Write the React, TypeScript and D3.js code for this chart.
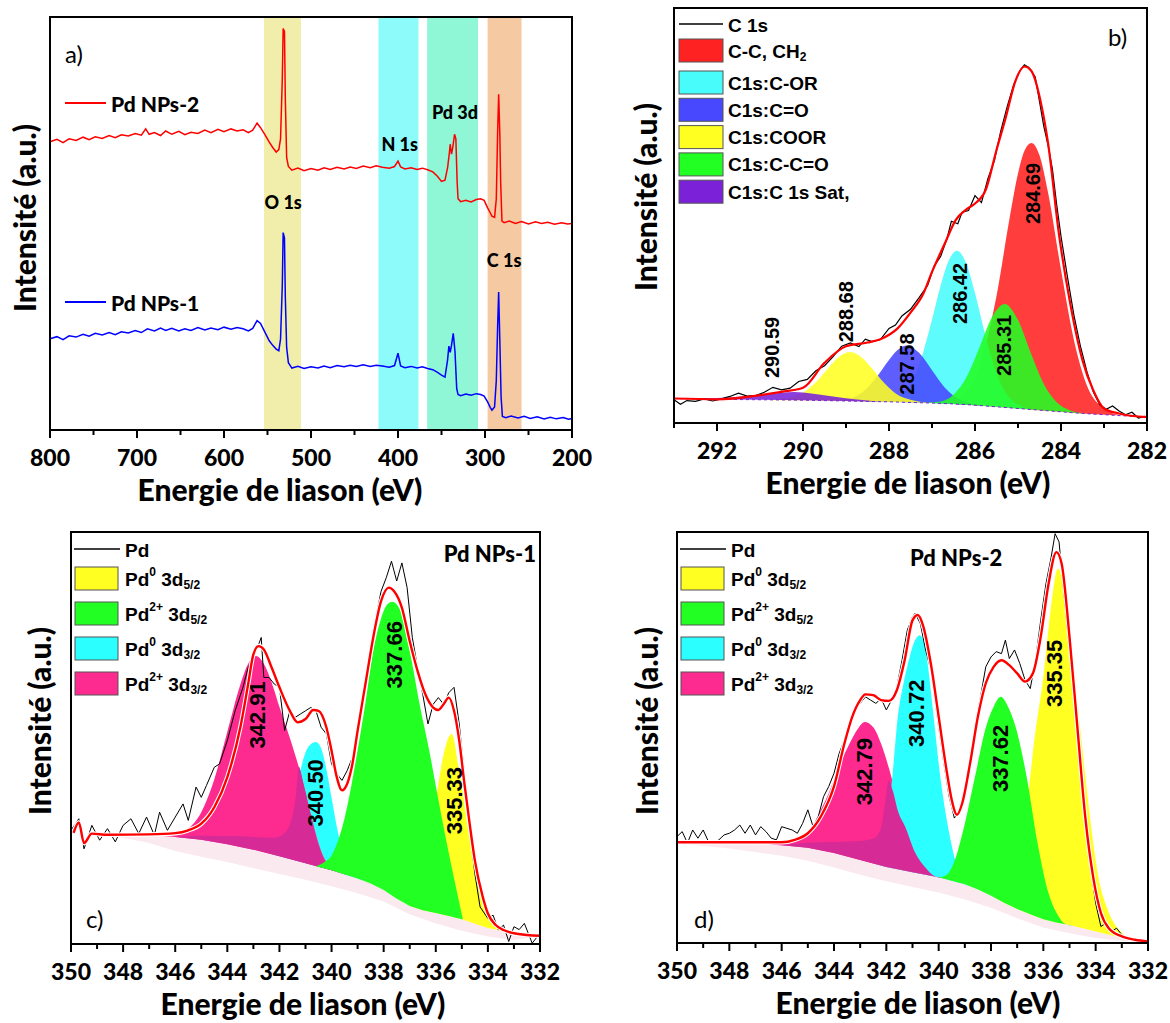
import React from "react";
import * as d3 from "d3";

type P = [number, number];

// ---------------- Panel a : survey spectra (eV, % of plot height) ----------------
const A_NPS2: P[] = [[800,69.8],[792,70.4],[785,69.6],[778,70.5],[770,70.1],[762,70.9],[755,70.3],[748,71.0],[740,70.6],[732,71.3],[725,70.8],[718,71.5],[710,71.2],[702,71.8],[695,71.4],[690,72.9],[686,71.6],[680,72.0],[673,71.3],[667,72.4],[660,71.6],[652,72.3],[645,71.5],[638,72.1],[630,71.8],[622,72.6],[615,72.0],[607,72.8],[600,72.2],[592,72.9],[585,72.4],[578,72.7],[572,72.0],[567,72.6],[562,74.3],[558,73.2],[553,71.5],[548,69.7],[544,68.4],[540,67.3],[537,67.9],[535,70.5],[533,85],[532,97.2],[530.5,96.5],[529.5,80],[528,66.0],[526,63.8],[522,62.9],[515,63.4],[508,62.8],[500,63.3],[492,62.9],[485,63.5],[478,63.1],[470,63.6],[462,63.2],[455,63.7],[448,63.3],[440,63.9],[432,63.5],[425,64.0],[418,63.6],[410,63.4],[404,63.8],[400,65.1],[397,63.7],[392,63.2],[385,63.5],[378,63.1],[372,63.4],[366,63.0],[360,62.5],[355,61.5],[350,60.2],[346,60.5],[343,63.5],[341,67.0],[340,69.2],[338.5,66.8],[337,68.5],[335,71.6],[333.5,70.5],[332,60],[331,56.0],[328,55.3],[322,55.6],[316,55.2],[310,55.8],[305,56.0],[301,55.6],[297,53.8],[294,52.6],[292,51.8],[289,51.5],[287,56],[285.5,72],[284.3,81.3],[283,72],[282,60],[280.5,50.6],[278,50.2],[272,50.6],[265,50.0],[258,50.5],[250,49.9],[242,50.4],[235,50.0],[228,50.3],[220,49.8],[212,50.2],[205,49.9],[200,50.0]];
const A_NPS1: P[] = [[800,22.1],[792,22.6],[785,21.9],[778,22.8],[770,22.5],[762,23.2],[755,22.7],[748,23.4],[740,23.0],[732,23.6],[725,23.1],[718,23.8],[710,23.5],[702,24.1],[695,23.6],[688,24.5],[680,24.0],[673,24.7],[667,24.1],[660,24.6],[652,24.0],[645,24.5],[638,24.1],[630,24.8],[622,24.2],[615,24.7],[607,24.3],[600,24.9],[592,24.4],[585,24.8],[578,24.5],[572,24.0],[567,24.6],[562,26.5],[558,25.8],[553,23.7],[548,21.6],[544,20.5],[540,19.6],[537,19.2],[535,22],[533,35],[532,47.8],[530.5,46.5],[529.5,32],[528,20],[526,16.3],[522,15.0],[515,15.4],[508,14.9],[500,15.3],[492,15.0],[485,15.5],[478,15.1],[470,15.6],[462,15.3],[455,15.7],[448,15.4],[440,15.8],[432,15.4],[425,15.7],[418,15.5],[410,15.2],[404,15.6],[400,18.6],[397,15.5],[392,15.1],[385,15.4],[378,15.0],[372,15.3],[366,14.9],[360,14.6],[355,14.0],[350,13.3],[346,12.8],[343,17],[341.5,20.3],[340,18.8],[338.5,20.5],[336.5,23.4],[334.5,19],[332.5,10],[331,8.6],[328,8.3],[322,8.7],[316,8.4],[310,8.8],[305,8.6],[301,8.2],[297,6.8],[294,5.5],[292,4.8],[289,5.6],[287,12],[285.5,25],[284.3,33.4],[283,22],[281.5,8],[280,3.3],[276,3.0],[270,3.4],[262,2.9],[255,3.3],[248,2.8],[240,3.2],[232,2.7],[225,3.1],[218,2.7],[210,3.0],[204,2.6],[200,2.8]];
const A_BAND_RANGES: P[] = [[554,511.5],[422.5,376.5],[366.5,308],[297,258]];
const A_PEAK_NAMES = ["O 1s", "N 1s", "Pd 3d", "C 1s"];
const A_PEAK_POS: P[] = [[532,55.3],[398,69.2],[334.5,76.9],[278,41.2]];
const A_SERIES = ["Pd NPs-2", "Pd NPs-1"];
const A_TICKS = [800,700,600,500,400,300,200];
const A_MINOR = [750,650,550,450,350,250];

// ---------------- Panel b : C 1s ----------------
const B_RAW: P[] = [[293.0,5.6],[292.85,4.5],[292.7,5.4],[292.5,5.2],[292.3,5.8],[292.1,5.3],[291.9,5.8],[291.7,6.4],[291.5,7.2],[291.3,6.5],[291.1,6.6],[290.9,7.4],[290.7,8.6],[290.5,8.0],[290.3,8.4],[290.1,10.0],[289.9,10.5],[289.7,12.6],[289.5,13.8],[289.3,16.0],[289.1,18.5],[288.9,19.3],[288.7,18.4],[288.55,20.2],[288.4,19.6],[288.2,20.1],[288.0,22.8],[287.85,23.6],[287.7,25.8],[287.5,27.4],[287.3,30.2],[287.1,33.2],[286.95,37.8],[286.8,40.1],[286.65,44.5],[286.55,48.6],[286.4,48.0],[286.3,50.8],[286.15,51.2],[286.0,54.8],[285.85,53.1],[285.7,58.9],[285.55,63.2],[285.4,70.4],[285.25,76.3],[285.1,81.5],[284.95,85.0],[284.85,86.3],[284.75,85.7],[284.6,83.4],[284.5,77.5],[284.4,71.5],[284.3,66.9],[284.2,61.2],[284.1,52.6],[284.0,45.0],[283.85,35.2],[283.7,26.0],[283.55,18.6],[283.4,12.5],[283.25,7.5],[283.1,4.4],[282.95,3.3],[282.8,4.1],[282.65,2.9],[282.5,2.0],[282.35,2.6],[282.2,1.2],[282.05,1.6],[282.0,1.3]];
const B_ENV: P[] = [[293.0,5.9],[292.0,5.7],[291.0,6.7],[290.5,7.5],[290.0,8.5],[289.5,14.5],[289.0,18.5],[288.5,19.4],[288.2,20.2],[287.8,22.8],[287.5,26.6],[287.2,31.2],[287.0,36.4],[286.7,43.3],[286.45,48.9],[286.2,51.5],[286.0,52.9],[285.75,56.2],[285.5,65.8],[285.3,73.0],[285.05,82.7],[284.85,85.9],[284.7,85.0],[284.45,76.3],[284.3,67.4],[284.05,45.7],[283.8,29.6],[283.5,15.1],[283.25,7.9],[283.0,3.5],[282.65,2.3],[282.0,1.4]];
const B_BASE: P[] = [[293,5.9],[292,5.7],[291,5.6],[290,5.5],[289,5.3],[288,5.1],[287,4.8],[286.5,4.6],[286,4.3],[285.5,3.9],[285,3.5],[284.5,3.1],[284,2.7],[283.5,2.3],[283,2.0],[282.5,1.7],[282,1.4]];
const B_CC: P[] = [[286.6,4.6],[286.0,11.0],[285.5,30.6],[285.2,49.1],[285.0,60.1],[284.85,65.6],[284.69,67.5],[284.5,64.5],[284.3,55.5],[284.0,36.9],[283.7,20.0],[283.4,9.1],[283.0,3.5],[282.6,1.8]];
const B_COR: P[] = [[288.2,5.1],[287.6,7.9],[287.3,14.0],[287.0,24.9],[286.8,33.1],[286.6,39.4],[286.42,41.5],[286.2,38.3],[286.0,31.3],[285.8,22.8],[285.5,12.0],[285.2,6.1],[284.7,3.3]];
const B_CO: P[] = [[289.4,5.4],[289.0,5.7],[288.6,7.6],[288.3,10.9],[288.0,15.2],[287.8,17.6],[287.58,18.7],[287.3,16.9],[287.0,12.7],[286.7,8.5],[286.4,5.9],[286.0,4.5],[285.6,4.0]];
const B_COOR: P[] = [[290.8,5.5],[290.3,6.1],[290.0,7.3],[289.7,9.8],[289.4,13.4],[289.15,16.0],[288.9,17.1],[288.65,15.9],[288.4,13.2],[288.1,9.5],[287.8,6.8],[287.5,5.6],[287.0,4.8]];
const B_CCO: P[] = [[287.2,4.9],[286.8,5.2],[286.5,6.8],[286.2,11.0],[285.9,18.1],[285.6,25.6],[285.31,28.7],[285.0,24.8],[284.7,16.8],[284.4,9.4],[284.1,5.0],[283.8,3.1],[283.4,2.3]];
const B_SAT: P[] = [[292.8,5.9],[292.0,6.0],[291.5,6.3],[291.0,6.8],[290.5,7.3],[290.2,7.5],[289.8,7.1],[289.3,6.4],[288.8,5.7],[288.2,5.1]];
const B_NAMES = ["C-C, CH", "C1s:C-OR", "C1s:C=O", "C1s:COOR", "C1s:C-C=O", "C1s:C 1s Sat,"];
const B_PEAK_LABELS = ["284.69", "285.31", "286.42", "287.58", "288.68", "290.59"];
const B_PEAK_POS: P[] = [[284.64,55.3],[285.33,18.7],[286.36,31.2],[287.57,14.2],[288.99,26.8],[290.71,18.2]];
const B_TICKS = [292,290,288,286,284,282];
const B_MINOR = [293,291,289,287,285,283];

// ---------------- Panel c : Pd 3d, Pd NPs-1 ----------------
const C_RAW: P[] = [[350,27.6],[349.7,30.4],[349.5,23.1],[349.2,28.8],[348.9,25.2],[348.6,28.0],[348.3,24.8],[348.0,28.8],[347.7,30.4],[347.4,26.8],[347.1,30.8],[346.8,26.4],[346.6,32.0],[346.3,27.6],[346.0,30.8],[345.7,34.0],[345.5,30.0],[345.2,38.1],[345.0,35.6],[344.8,38.5],[344.5,42.9],[344.3,43.7],[344.0,49.4],[343.7,56.6],[343.4,62.3],[343.2,67.1],[343.0,69.5],[342.8,72.7],[342.7,74.4],[342.6,64.7],[342.4,64.7],[342.2,63.1],[342.0,62.3],[341.8,51.8],[341.6,56.6],[341.4,55.0],[341.2,55.8],[341.0,56.6],[340.8,57.4],[340.6,56.6],[340.4,52.6],[340.2,51.0],[340.0,43.7],[339.8,41.3],[339.6,39.7],[339.4,42.1],[339.2,45.3],[339.0,52.6],[338.7,64.7],[338.4,76.0],[338.1,85.6],[337.9,88.9],[337.7,92.9],[337.5,88.1],[337.3,92.5],[337.1,86.5],[336.9,74.4],[336.7,67.1],[336.5,60.6],[336.3,53.4],[336.1,58.2],[335.9,59.8],[335.7,58.2],[335.5,61.0],[335.3,62.3],[335.1,53.4],[334.9,41.3],[334.7,27.6],[334.5,17.1],[334.3,9.0],[334.0,6.2],[333.8,7.0],[333.6,3.4],[333.4,4.6],[333.2,0.6],[333.0,4.2],[332.8,3.5],[332.6,5.0],[332.4,1.8],[332.3,0.2],[332.0,2.6]];
const C_ENV: P[] = [[349.9,27.0],[349.7,29.5],[349.5,24.5],[349.2,26.8],[348.6,26.5],[347,26.6],[346,26.9],[345.5,27.6],[345,29.2],[344.5,33.2],[344,40.5],[343.5,52.6],[343.2,63.1],[343,70.3],[342.8,72.3],[342.6,71.5],[342.3,67.1],[342,62.3],[341.6,56.6],[341.3,53.8],[341.0,54.6],[340.7,56.8],[340.5,56.6],[340.2,52.6],[340.0,46.9],[339.8,40.5],[339.6,37.3],[339.4,38.9],[339.2,43.7],[339.0,51.8],[338.7,63.1],[338.4,74.4],[338.1,83.2],[337.8,86.5],[337.6,85.6],[337.3,81.6],[337.0,73.5],[336.7,66.3],[336.4,60.6],[336.1,57.4],[335.9,56.8],[335.7,58.2],[335.5,59.8],[335.3,56.6],[335.1,49.4],[334.9,38.9],[334.7,29.2],[334.5,20.3],[334.2,11.5],[334.0,7.4],[333.7,4.6],[333.4,3.4],[333.0,2.6],[332.5,2.2],[332.0,2.0]];
const C_SHIRLEY: P[] = [[348.6,26.5],[347,26.4],[346,26.0],[345,25.3],[344,24.2],[343,22.9],[342,21.3],[341,19.6],[340,17.9],[339,15.9],[338.5,14.7],[338,13.1],[337.5,11.0],[337,9.2],[336.5,8.2],[336,7.5],[335.5,6.8],[335,6.0],[334.5,4.9],[334,3.9],[333,2.6],[332,2.0]];
const C_BGLOW: P[] = [[348.6,26.5],[347,24.5],[346,22.6],[345,21.2],[344,19.9],[343,18.4],[342,17.0],[341,15.6],[340,14.0],[339,12.3],[338,10.3],[337,7.2],[336,5.0],[335,3.2],[334,1.8],[333,1.0],[332,0.8]];
const C_PD2_32: P[] = [[346.5,26.2],[346.0,26.6],[345.5,28.0],[345.0,32.0],[344.5,40.0],[344.0,51.5],[343.5,63.0],[343.2,68.0],[342.9,69.9],[342.6,68.0],[342.3,63.5],[342.0,57.5],[341.6,50.0],[341.26,43.0],[341.0,37.0],[340.83,32.4],[340.33,21.5],[340.0,18.6],[339.5,17.0],[339.2,16.3]];
const C_PD0_32: P[] = [[342.2,21.6],[341.8,24.0],[341.5,30.0],[341.26,40.0],[341.0,46.5],[340.8,48.5],[340.6,49.0],[340.4,47.5],[340.2,42.5],[340.0,35.5],[339.8,28.5],[339.6,23.0],[339.4,19.5],[339.1,17.0],[338.8,15.4]];
const C_SHADE: P[] = [[346.0,26.0],[345.0,26.3],[344.0,26.2],[343.0,26.0],[342.2,25.8],[341.8,27.0],[341.5,31.0],[341.35,37.0],[341.26,43.0],[341.05,38.0],[340.83,32.0],[340.6,26.0],[340.33,21.0],[340.0,18.2],[339.7,17.3]];
const C_PD2_52: P[] = [[340.6,18.9],[340.3,19.8],[340.0,21.5],[339.5,30.5],[339.0,47.0],[338.7,58.5],[338.4,71.1],[338.1,79.0],[337.85,82.5],[337.66,83.1],[337.4,81.5],[337.0,71.1],[336.6,57.5],[336.25,46.9],[335.9,35.0],[335.5,22.0],[335.2,13.0],[334.96,6.0]];
const C_PD0_52: P[] = [[337.2,10.0],[336.6,14.0],[336.25,24.4],[335.96,36.5],[335.67,46.9],[335.39,51.0],[335.1,42.1],[334.67,24.4],[334.24,12.3],[333.81,5.8],[333.4,3.2],[333.0,2.6]];
const C_PEAK_LABELS = ["342.91", "340.50", "337.66", "335.33"];
const C_PEAK_POS: P[] = [[342.84,55.6],[340.6,36.7],[337.6,70.2],[335.3,34.8]];

// ---------------- Panel d : Pd 3d, Pd NPs-2 ----------------
const D_RAW: P[] = [[350,25.9],[349.8,27.1],[349.6,24.3],[349.4,27.5],[349.2,25.5],[349.0,27.5],[348.8,24.7],[348.6,24.3],[348.4,25.1],[348.2,26.3],[348.0,26.7],[347.8,27.5],[347.6,28.7],[347.4,26.7],[347.2,28.7],[347.0,26.3],[346.8,28.3],[346.6,27.1],[346.4,25.5],[346.2,25.1],[346.0,28.3],[345.8,27.9],[345.6,27.5],[345.4,26.7],[345.2,29.1],[345.0,32.4],[344.8,28.3],[344.6,30.8],[344.4,35.6],[344.2,38.1],[344.0,41.3],[343.8,46.2],[343.6,49.4],[343.4,52.6],[343.2,56.7],[343.0,58.3],[342.8,59.9],[342.6,59.1],[342.4,58.3],[342.2,59.5],[342.0,56.7],[341.8,59.1],[341.6,62.3],[341.4,68.8],[341.2,76.1],[341.0,79.4],[340.9,80.2],[340.7,77.7],[340.5,71.3],[340.3,66.4],[340.0,52.6],[339.8,43.7],[339.6,35.6],[339.4,30.4],[339.2,32.4],[339.0,38.1],[338.8,43.7],[338.6,53.4],[338.4,59.9],[338.2,67.2],[338.0,69.6],[337.8,70.9],[337.6,70.4],[337.45,73.7],[337.3,69.2],[337.1,71.3],[336.9,68.0],[336.7,64.0],[336.5,61.9],[336.3,68.8],[336.1,78.5],[335.9,87.4],[335.7,93.9],[335.55,99.6],[335.4,97.6],[335.2,84.2],[335.0,71.3],[334.8,58.3],[334.6,43.7],[334.4,32.4],[334.2,18.6],[334.0,9.7],[333.8,4.0],[333.6,4.9],[333.4,2.8],[333.2,3.6],[333.0,2.0],[332.8,1.2],[332.5,0.8],[332.0,0.4]];
const D_ENV: P[] = [[350,24.5],[348,24.5],[346,24.5],[345.5,25.1],[345,26.7],[344.5,30.8],[344,38.1],[343.6,48.6],[343.3,55.1],[343.0,59.1],[342.8,60.5],[342.5,60.3],[342.2,59.1],[341.9,58.9],[341.6,61.5],[341.3,68.8],[341.0,78.5],[340.8,79.8],[340.6,77.3],[340.3,68.0],[340.0,55.1],[339.7,42.1],[339.5,34.8],[339.3,31.2],[339.1,34.0],[338.8,43.7],[338.5,55.1],[338.2,63.2],[337.9,67.2],[337.6,68.8],[337.3,67.6],[337.0,65.6],[336.7,63.6],[336.4,65.6],[336.1,74.5],[335.8,87.4],[335.5,95.1],[335.3,92.3],[335.0,74.5],[334.7,52.6],[334.4,30.8],[334.1,16.2],[333.8,7.3],[333.5,3.6],[333.0,1.6],[332.5,0.8],[332.0,0.4]];
const D_SHIRLEY: P[] = [[350,24.3],[348,24.2],[347,24.1],[346,23.8],[345,23.2],[344,21.9],[343,20.2],[342,18.5],[341,17.2],[340,16.0],[339,14.3],[338.5,13.0],[338,11.5],[337.5,9.8],[337,8.3],[336.5,7.0],[336,5.8],[335.5,5.0],[335,4.4],[334,2.8],[333,1.3],[332,0.4]];
const D_BGLOW: P[] = [[350,24.3],[348,23.0],[346,21.2],[345,20.0],[344,18.4],[343,16.6],[342,15.0],[341,13.6],[340,12.3],[339,10.6],[338,8.6],[337,6.0],[336,3.8],[335,2.4],[334,1.2],[333,0.5],[332,0.1]];
const D_PD2_32: P[] = [[346.5,24.0],[345.8,24.5],[345.2,26.0],[344.8,28.5],[344.5,32.4],[344.2,36.5],[343.95,40.5],[343.7,44.5],[343.4,48.6],[343.1,52.0],[342.83,53.8],[342.5,52.5],[342.2,48.5],[341.9,42.5],[341.6,35.5],[341.3,28.5],[341.0,23.0],[340.6,19.5],[340.2,17.0],[339.8,15.7]];
const D_PD0_32: P[] = [[342.4,19.2],[342.1,24.0],[341.9,33.0],[341.77,40.5],[341.56,55.1],[341.35,63.0],[341.14,68.8],[340.95,73.0],[340.72,74.9],[340.55,73.0],[340.44,68.8],[340.2,55.5],[339.94,40.5],[339.72,31.0],[339.52,24.3],[339.3,18.5],[339.0,15.0],[338.7,13.6]];
const D_SHADE: P[] = [[346.2,23.7],[345.0,24.4],[344.0,24.6],[343.0,24.8],[342.5,25.4],[342.2,28.0],[342.05,34.0],[341.92,39.5],[341.75,37.0],[341.55,32.0],[341.28,28.3],[340.9,22.0],[340.5,18.3],[340.2,16.4],[339.9,15.8]];
const D_PD2_52: P[] = [[340.0,16.0],[339.73,16.4],[339.38,20.2],[339.03,28.3],[338.61,40.5],[338.19,52.6],[337.9,57.5],[337.62,59.9],[337.35,57.5],[337.06,52.6],[336.64,40.5],[336.22,24.3],[335.8,12.1],[335.45,6.8],[335.16,4.6],[334.8,4.1]];
const D_PD0_52: P[] = [[337.8,10.8],[337.3,12.5],[336.8,24.0],[336.57,36.4],[336.36,48.6],[336.0,64.8],[335.72,81.0],[335.44,91.1],[335.09,81.0],[334.81,64.8],[334.53,48.6],[334.25,32.4],[333.9,16.2],[333.54,8.1],[332.98,2.4],[332.5,0.9]];
const D_PEAK_LABELS = ["342.79", "340.72", "337.62", "335.35"];
const D_PEAK_POS: P[] = [[342.83,41.7],[340.86,55.9],[337.62,44.9],[335.58,65.6]];

const CD_TICKS = [350,348,346,344,342,340,338,336,334,332];
const CD_MINOR = [349,347,345,343,341,339,337,335,333];
const PD_STATES = [["0","5/2"],["2+","5/2"],["0","3/2"],["2+","3/2"]];

const X_TITLE = "Energie de liason (eV)";
const Y_TITLE = "Intensité (a.u.)";

// ---------------- styles ----------------
const FL = "Lato, 'Open Sans', 'DejaVu Sans', sans-serif";
const FA = "'Liberation Sans', Arial, sans-serif";
const A_BAND_COLORS = ["#f1eeab", "#8efbfb", "#8ff6d6", "#f5caa2"];
const B_COLORS = ["#ff2222", "#48fcfc", "#4848ff", "#ffff22", "#22ff22", "#7b22d8"];
const PD_COLORS = ["#ffff22", "#22ff22", "#2cffff", "#fd2a8f"];

interface Geo { x0: number; x1: number; y0: number; y1: number; dom: [number, number]; }
const GA: Geo = { x0: 50, x1: 572, y0: 17, y1: 430, dom: [800, 200] };
const GB: Geo = { x0: 674, x1: 1147, y0: 8, y1: 423, dom: [293, 282] };
const GC: Geo = { x0: 71, x1: 540, y0: 532, y1: 944, dom: [350, 332] };
const GD: Geo = { x0: 677, x1: 1148, y0: 532, y1: 943, dom: [350, 332] };

function sc(g: Geo) {
  const x = d3.scaleLinear().domain(g.dom).range([g.x0, g.x1]);
  const y = d3.scaleLinear().domain([0, 100]).range([g.y1, g.y0]);
  return { x, y };
}
type S = ReturnType<typeof sc>;

function smooth(s: S, pts: P[]) {
  return d3.line<P>().x(d => s.x(d[0])).y(d => s.y(d[1])).curve(d3.curveMonotoneX)(pts) ?? "";
}
function straight(s: S, pts: P[]) {
  return d3.line<P>().x(d => s.x(d[0])).y(d => s.y(d[1]))(pts) ?? "";
}
function band(s: S, top: P[], bottom: P[]) {
  const hi = top[0][0], lo = top[top.length - 1][0];
  const inner = bottom.filter(p => p[0] < hi && p[0] > lo).slice().reverse();
  return smooth(s, top) + inner.map(p => `L${s.x(p[0])},${s.y(p[1])}`).join("") + "Z";
}

function Axes({ g, majors, minors, ytx, yty, xtx }: { g: Geo; majors: number[]; minors: number[]; ytx: number; yty: number; xtx: number }) {
  const { x } = sc(g);
  return (
    <g>
      {minors.map(v => <line key={"n" + v} x1={x(v)} x2={x(v)} y1={g.y1} y2={g.y1 + 5} stroke="#000" strokeWidth={2} />)}
      {majors.map(v => <line key={"j" + v} x1={x(v)} x2={x(v)} y1={g.y1} y2={g.y1 + 8} stroke="#000" strokeWidth={2} />)}
      {majors.map(v => (
        <text key={"t" + v} x={x(v)} y={g.y1 + 27} textAnchor="middle" dominantBaseline="central"
          fontFamily={FL} fontWeight={900} fontSize={23}>{v}</text>
      ))}
      <rect x={g.x0} y={g.y0} width={g.x1 - g.x0} height={g.y1 - g.y0} fill="none" stroke="#000" strokeWidth={2} />
      <text x={xtx} y={g.y1 + 59} textAnchor="middle" dominantBaseline="central"
        fontFamily={FL} fontWeight={900} fontSize={30}>{X_TITLE}</text>
      <text transform={`translate(${ytx},${yty}) rotate(-90)`} textAnchor="middle" dominantBaseline="central"
        fontFamily={FL} fontWeight={900} fontSize={30}>{Y_TITLE}</text>
    </g>
  );
}

function PeakLabels({ s, pos, labels, size }: { s: S; pos: P[]; labels: string[]; size: number }) {
  return (
    <g>
      {pos.map((p, i) => (
        <text key={i} transform={`translate(${s.x(p[0])},${s.y(p[1])}) rotate(-90)`} textAnchor="middle"
          dominantBaseline="central" fontFamily={FA} fontWeight={700} fontSize={size}>{labels[i]}</text>
      ))}
    </g>
  );
}

function PanelA() {
  const s = sc(GA);
  const g = GA;
  return (
    <g>
      {A_BAND_RANGES.map((r, i) => (
        <rect key={i} x={s.x(r[0])} y={g.y0} width={s.x(r[1]) - s.x(r[0])} height={g.y1 - g.y0} fill={A_BAND_COLORS[i]} />
      ))}
      <path d={straight(s, A_NPS2)} fill="none" stroke="#ff0000" strokeWidth={1.5} />
      <path d={straight(s, A_NPS1)} fill="none" stroke="#0000ff" strokeWidth={1.5} />
      {A_PEAK_NAMES.map((n, i) => (
        <text key={n} x={s.x(A_PEAK_POS[i][0])} y={s.y(A_PEAK_POS[i][1])} textAnchor="middle" dominantBaseline="central"
          fontFamily={FL} fontWeight={900} fontSize={18}>{n}</text>
      ))}
      {A_SERIES.map((n, i) => {
        const yy = i === 0 ? 103 : 302;
        return (
          <g key={n}>
            <line x1={65} x2={106} y1={yy} y2={yy} stroke={i === 0 ? "#ff0000" : "#0000ff"} strokeWidth={2} />
            <text x={111} y={yy} dominantBaseline="central" fontFamily={FL} fontWeight={900} fontSize={21}>{n}</text>
          </g>
        );
      })}
      <text x={65} y={53} dominantBaseline="central" fontFamily={FL} fontSize={24}>a)</text>
      <Axes g={GA} majors={A_TICKS} minors={A_MINOR} ytx={24} yty={218} xtx={280} />
    </g>
  );
}

function PanelB() {
  const s = sc(GB);
  const comps = [B_CC, B_COR, B_CO, B_COOR, B_CCO, B_SAT];
  const rowTop = (i: number) => (i === 0 ? 39 : 71 + (i - 1) * 27.3);
  return (
    <g>
      {comps.map((c, i) => (
        <path key={i} d={band(s, c, B_BASE)} fill={B_COLORS[i]} fillOpacity={0.88} />
      ))}
      <path d={straight(s, B_BASE)} fill="none" stroke="#7b22d8" strokeWidth={1} strokeDasharray="3,3" />
      <path d={straight(s, B_RAW)} fill="none" stroke="#000" strokeWidth={1.2} />
      <path d={smooth(s, B_ENV)} fill="none" stroke="#ff0000" strokeWidth={2.2} />
      <PeakLabels s={s} pos={B_PEAK_POS} labels={B_PEAK_LABELS} size={20} />
      <line x1={679} x2={723} y1={24} y2={24} stroke="#000" strokeWidth={1.5} />
      <text x={728} y={25} dominantBaseline="central" fontFamily={FA} fontWeight={700} fontSize={19}>C 1s</text>
      {B_NAMES.map((n, i) => (
        <g key={n}>
          <rect x={679} y={rowTop(i)} width={44} height={23} fill={B_COLORS[i]} stroke="#555" strokeWidth={1} />
          <text x={728} y={rowTop(i) + 12} dominantBaseline="central" fontFamily={FA} fontWeight={700} fontSize={19}>
            {n}{i === 0 ? <tspan dy={6} fontSize={12}>2</tspan> : null}
          </text>
        </g>
      ))}
      <text x={1108} y={36} dominantBaseline="central" fontFamily={FL} fontSize={24}>b)</text>
      <Axes g={GB} majors={B_TICKS} minors={B_MINOR} ytx={645} yty={197} xtx={908} />
    </g>
  );
}

function PdLegend({ g }: { g: Geo }) {
  const lx = g.x0 + 3;
  const sx = g.x0 + 4;
  const tx = g.x0 + 54;
  return (
    <g>
      <line x1={lx} x2={lx + 46} y1={549} y2={549} stroke="#000" strokeWidth={1.5} />
      <text x={tx} y={550} dominantBaseline="central" fontFamily={FA} fontWeight={700} fontSize={19}>Pd</text>
      {PD_STATES.map((st, i) => {
        const top = 567 + i * 35;
        return (
          <g key={i}>
            <rect x={sx} y={top} width={43} height={23} fill={PD_COLORS[i]} stroke="#555" strokeWidth={1} />
            <text x={tx} y={top + 12} dominantBaseline="central" fontFamily={FA} fontWeight={700} fontSize={19}>
              Pd<tspan dy={-7} fontSize={12}>{st[0]}</tspan>
              <tspan dy={7}> 3d</tspan>
              <tspan dy={6} fontSize={12}>{st[1]}</tspan>
            </text>
          </g>
        );
      })}
    </g>
  );
}

function PanelC() {
  const s = sc(GC);
  return (
    <g>
      <path d={band(s, C_SHIRLEY, C_BGLOW)} fill="#fbe9f0" />
      <path d={band(s, C_PD0_32, C_SHIRLEY)} fill={PD_COLORS[2]} />
      <path d={band(s, C_PD2_32, C_SHIRLEY)} fill={PD_COLORS[3]} />
      <path d={band(s, C_SHADE, C_SHIRLEY)} fill="#d62a96" />
      <path d={band(s, C_PD0_52, C_SHIRLEY)} fill={PD_COLORS[0]} />
      <path d={band(s, C_PD2_52, C_SHIRLEY)} fill={PD_COLORS[1]} />
      <path d={straight(s, C_RAW)} fill="none" stroke="#000" strokeWidth={1} />
      <path d={smooth(s, C_ENV)} fill="none" stroke="#fff" strokeWidth={4.5} />
      <path d={smooth(s, C_ENV)} fill="none" stroke="#ff0000" strokeWidth={2.4} />
      <PeakLabels s={s} pos={C_PEAK_POS} labels={C_PEAK_LABELS} size={22} />
      <PdLegend g={GC} />
      <text x={536} y={553} textAnchor="end" dominantBaseline="central" fontFamily={FL} fontWeight={900} fontSize={22}>Pd NPs-1</text>
      <text x={86} y={918} dominantBaseline="central" fontFamily={FL} fontSize={24}>c)</text>
      <Axes g={GC} majors={CD_TICKS} minors={CD_MINOR} ytx={39} yty={721} xtx={303} />
    </g>
  );
}

function PanelD() {
  const s = sc(GD);
  return (
    <g>
      <path d={band(s, D_SHIRLEY, D_BGLOW)} fill="#fbe9f0" />
      <path d={band(s, D_PD0_52, D_SHIRLEY)} fill={PD_COLORS[0]} />
      <path d={band(s, D_PD2_32, D_SHIRLEY)} fill={PD_COLORS[3]} />
      <path d={band(s, D_PD0_32, D_SHIRLEY)} fill={PD_COLORS[2]} />
      <path d={band(s, D_SHADE, D_SHIRLEY)} fill="#d62a96" />
      <path d={band(s, D_PD2_52, D_SHIRLEY)} fill={PD_COLORS[1]} />
      <path d={straight(s, D_RAW)} fill="none" stroke="#000" strokeWidth={1} />
      <path d={smooth(s, D_ENV)} fill="none" stroke="#fff" strokeWidth={4.5} />
      <path d={smooth(s, D_ENV)} fill="none" stroke="#ff0000" strokeWidth={2.4} />
      <PeakLabels s={s} pos={D_PEAK_POS} labels={D_PEAK_LABELS} size={22} />
      <PdLegend g={GD} />
      <text x={910} y={557} dominantBaseline="central" fontFamily={FL} fontWeight={900} fontSize={22}>Pd NPs-2</text>
      <text x={694} y={918} dominantBaseline="central" fontFamily={FL} fontSize={24}>d)</text>
      <Axes g={GD} majors={CD_TICKS} minors={CD_MINOR} ytx={646} yty={721} xtx={918} />
    </g>
  );
}

export default function App() {
  return (
    <svg width={1170} height={1023} viewBox="0 0 1170 1023"
      style={{ position: "absolute", left: 0, top: 0, display: "block", background: "#fff" }}>
      <rect x={0} y={0} width={1170} height={1023} fill="#fff" />
      <PanelA />
      <PanelB />
      <PanelC />
      <PanelD />
    </svg>
  );
}
